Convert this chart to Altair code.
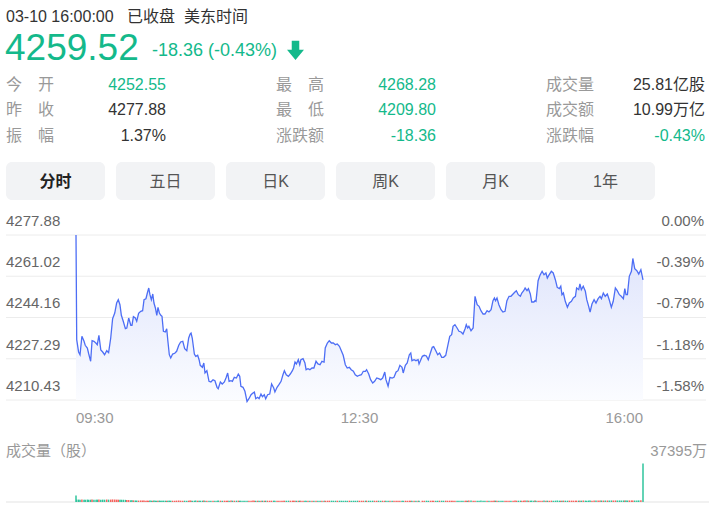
import altair as alt
import pandas as pd

# ---------------- data ----------------
prev_close = 4277.88
last_price = 4259.52
change = -18.36
change_pct = "-0.43%"
open_price = "4252.55"
high_price = "4268.28"
low_price = "4209.80"
amplitude = "1.37%"
total_volume = "25.81亿股"
turnover = "10.99万亿"
header_time = "03-10 16:00:00"
header_status = "已收盘"
header_zone = "美东时间"

tabs = ["分时", "五日", "日K", "周K", "月K", "1年"]

price_ticks = [4277.88, 4261.02, 4244.16, 4227.29, 4210.43]
pct_ticks = ["0.00%", "-0.39%", "-0.79%", "-1.18%", "-1.58%"]
time_labels = ["09:30", "12:30", "16:00"]
time_label_minutes = [0, 120, 240]
volume_max = 37395
volume_max_label = "37395万"
volume_title = "成交量（股）"

minutes = [
    0.0, 0.3, 1.1, 1.7, 2.5, 3.4, 3.9, 4.8, 5.4, 6.2,
    6.8, 7.6, 8.5, 9.0, 9.7, 10.5, 11.3, 12.1, 13.0, 13.8,
    14.7, 15.5, 16.4, 17.2, 17.9, 18.6, 19.2, 20.0, 20.9, 21.5,
    22.3, 23.2, 23.7, 24.3, 25.1, 25.7, 26.5, 27.4, 28.2, 28.8,
    29.6, 30.2, 30.8, 31.3, 31.9, 32.5, 33.0, 33.6, 34.2, 34.7,
    35.3, 35.9, 36.4, 37.0, 37.8, 38.4, 38.9, 39.5, 40.1, 40.9,
    41.8, 42.6, 43.5, 44.3, 45.2, 46.0, 46.9, 47.7, 48.3, 48.7,
    49.2, 50.1, 50.7, 51.5, 52.1, 52.6, 53.5, 54.1, 54.6, 55.4,
    56.3, 57.1, 58.0, 58.8, 59.7, 60.2, 61.1, 61.9, 62.8, 63.6,
    64.2, 64.8, 65.6, 66.2, 67.0, 67.9, 68.7, 69.3, 69.8, 70.7,
    71.5, 72.4, 73.2, 74.1, 74.9, 75.5, 76.1, 76.9, 77.5, 78.3,
    78.9, 79.7, 80.3, 81.1, 82.0, 82.8, 83.7, 84.2, 85.1, 85.9,
    86.8, 87.6, 88.2, 89.0, 89.9, 90.7, 91.6, 92.1, 92.7, 93.3,
    94.1, 94.7, 95.2, 96.1, 96.9, 97.4, 98.2, 99.0, 99.9, 100.7,
    101.6, 102.4, 103.3, 104.1, 105.0, 105.5, 106.4, 107.2, 108.1, 108.9,
    109.8, 110.6, 111.5, 112.3, 113.1, 114.0, 114.8, 115.7, 116.5, 117.4,
    118.2, 119.1, 119.9, 120.8, 121.6, 122.5, 123.0, 123.9, 124.7, 125.6,
    126.4, 127.3, 128.1, 129.0, 129.8, 130.7, 131.2, 132.1, 132.9, 133.8,
    134.6, 135.5, 136.3, 137.1, 138.0, 138.5, 139.4, 140.2, 141.1, 141.7,
    142.2, 143.1, 143.9, 144.8, 145.2, 146.6, 147.4, 148.3, 149.1, 150.0,
    150.8, 151.4, 152.3, 153.1, 153.9, 154.8, 155.6, 156.5, 157.3, 158.2,
    159.0, 159.6, 160.4, 161.3, 162.1, 163.0, 163.8, 164.7, 165.2, 165.8,
    166.3, 167.2, 168.1, 168.9, 169.8, 170.6, 171.4, 172.3, 173.1, 174.0,
    174.8, 175.7, 176.5, 177.1, 177.6, 178.2, 179.0, 179.9, 180.7, 181.6,
    182.4, 183.3, 184.1, 185.0, 185.8, 186.4, 187.2, 188.1, 188.7, 189.5,
    190.1, 190.9, 191.5, 192.3, 192.9, 193.8, 194.3, 194.7, 195.6, 196.4,
    197.3, 198.1, 198.9, 199.5, 200.3, 201.2, 202.0, 202.9, 203.7, 204.6,
    205.2, 205.7, 206.3, 207.1, 208.0, 208.8, 209.7, 210.5, 211.4, 211.9,
    212.8, 213.3, 213.9, 214.7, 215.6, 216.2, 217.0, 217.6, 218.4, 219.3,
    220.1, 221.0, 221.8, 222.4, 223.2, 224.0, 224.9, 225.7, 226.6, 227.4,
    228.3, 229.1, 230.0, 230.8, 231.7, 232.3, 232.8, 233.4, 234.2, 235.1,
    235.7, 236.5, 237.4, 238.2, 239.1, 240.0,
]

prices = [
    4277.88, 4235.08, 4230.05, 4228.95, 4236.47, 4234.43, 4232.79, 4231.69, 4229.23, 4226.25,
    4234.67, 4234.43, 4233.61, 4233.04, 4236.88, 4230.87, 4230.05, 4228.95, 4230.58, 4229.77,
    4235.77, 4243.66, 4245.99, 4250.08, 4251.43, 4249.39, 4245.05, 4242.60, 4239.58, 4239.86,
    4243.95, 4240.97, 4240.97, 4244.48, 4243.95, 4242.60, 4245.87, 4246.69, 4246.93, 4251.43,
    4251.84, 4254.17, 4256.21, 4253.48, 4251.43, 4253.76, 4250.08, 4248.04, 4245.05, 4248.32,
    4245.99, 4245.05, 4244.65, 4238.51, 4238.23, 4239.58, 4234.43, 4228.95, 4227.60, 4229.23,
    4229.52, 4230.34, 4232.79, 4234.14, 4234.43, 4231.40, 4230.58, 4235.77, 4237.41, 4237.82,
    4235.77, 4229.23, 4228.29, 4228.70, 4226.90, 4224.61, 4223.80, 4225.55, 4221.47, 4222.41,
    4218.07, 4217.79, 4218.73, 4218.32, 4215.62, 4215.05, 4217.79, 4216.97, 4217.79, 4219.71,
    4221.47, 4218.07, 4218.32, 4218.07, 4219.71, 4219.42, 4221.06, 4220.12, 4216.03, 4215.62,
    4213.99, 4209.80, 4210.96, 4212.60, 4213.29, 4213.70, 4210.96, 4211.53, 4210.96, 4212.88,
    4211.78, 4212.60, 4210.96, 4212.60, 4212.88, 4216.97, 4215.34, 4213.70, 4215.62, 4216.68,
    4218.07, 4220.77, 4222.41, 4220.77, 4220.12, 4221.06, 4222.41, 4223.51, 4225.96, 4225.15,
    4226.90, 4224.86, 4226.90, 4227.31, 4225.55, 4222.82, 4223.22, 4222.82, 4223.51, 4223.51,
    4226.25, 4225.15, 4224.86, 4226.25, 4225.96, 4231.69, 4233.73, 4234.67, 4233.73, 4233.73,
    4233.04, 4233.32, 4232.38, 4230.58, 4228.70, 4224.86, 4223.51, 4223.80, 4222.82, 4222.16,
    4220.77, 4220.12, 4220.53, 4220.77, 4222.16, 4222.16, 4222.82, 4221.06, 4218.73, 4217.38,
    4218.07, 4219.42, 4219.14, 4218.73, 4219.42, 4221.88, 4218.73, 4216.03, 4219.71, 4219.42,
    4219.71, 4221.88, 4222.41, 4224.61, 4223.80, 4221.47, 4224.61, 4225.55, 4228.95, 4229.64,
    4226.50, 4226.90, 4226.50, 4226.90, 4225.15, 4228.29, 4228.70, 4228.42, 4226.90, 4229.64,
    4231.97, 4232.22, 4230.58, 4228.95, 4229.64, 4227.88, 4227.88, 4228.70, 4232.38, 4236.47,
    4237.12, 4240.56, 4241.21, 4239.86, 4238.51, 4238.23, 4237.41, 4239.58, 4241.21, 4239.86,
    4240.56, 4238.76, 4239.86, 4252.82, 4249.39, 4248.73, 4246.93, 4245.59, 4245.59, 4246.93,
    4246.40, 4247.34, 4251.02, 4252.13, 4251.02, 4252.13, 4249.39, 4247.34, 4246.40, 4246.69,
    4251.02, 4252.82, 4252.82, 4253.76, 4254.58, 4255.11, 4253.48, 4252.82, 4254.17, 4255.11,
    4256.21, 4255.11, 4255.93, 4253.76, 4250.49, 4250.49, 4251.02, 4250.78, 4259.20, 4261.41,
    4263.04, 4261.65, 4262.35, 4260.30, 4261.65, 4263.04, 4262.35, 4259.61, 4256.50, 4255.93,
    4256.91, 4253.48, 4254.17, 4250.78, 4248.32, 4250.08, 4250.78, 4252.13, 4252.82, 4256.21,
    4255.52, 4257.85, 4255.52, 4256.91, 4254.87, 4251.43, 4248.73, 4246.40, 4249.67, 4251.43,
    4250.08, 4251.84, 4252.82, 4251.84, 4254.17, 4252.82, 4253.76, 4251.43, 4248.32, 4250.78,
    4256.21, 4255.11, 4253.48, 4252.82, 4251.84, 4255.93, 4253.48, 4253.48, 4261.00, 4263.04,
    4268.28, 4264.10, 4263.29, 4261.94, 4263.70, 4259.52,
]

# volume per sample, in 万股
volumes = [
    6400, 2300, 2350, 2250, 2400, 2300, 2200, 2350, 2300, 2250,
    2400, 2300, 2250, 2300, 2350, 2200, 2300, 2250, 2400, 2300,
    2350, 2500, 2400, 2300, 2250, 2300, 2200, 2150, 2100, 2000,
    1900, 1800, 1700, 1600, 1500, 1450, 1400, 1500, 1450, 1400,
    1300, 1350, 1250, 1400, 1300, 1280, 1350, 1300, 1250, 1320,
    1400, 1300, 1280, 1350, 1300, 1250, 1300, 1380, 1300, 1260,
    1300, 1350, 1400, 1300, 1250, 1300, 1280, 1320, 1350, 1300,
    1250, 1300, 1350, 1280, 1300, 1260, 1300, 1340, 1300, 1280,
    1300, 1250, 1320, 1300, 1280, 1350, 1300, 1260, 1300, 1250,
    1280, 1300, 1350, 1300, 1260, 1300, 1320, 1280, 1300, 1250,
    1300, 1280, 1260, 1300, 1350, 1300, 1280, 1250, 1300, 1320,
    1300, 1260, 1300, 1280, 1250, 1300, 1320, 1300, 1280, 1260,
    1250, 1280, 1300, 1260, 1300, 1250, 1280, 1300, 1260, 1240,
    1260, 1300, 1280, 1250, 1240, 1280, 1300, 1260, 1250, 1280,
    1300, 1260, 1240, 1280, 1300, 1250, 1260, 1280, 1300, 1250,
    1240, 1260, 1280, 1250, 1300, 1260, 1240, 1280, 1250, 1260,
    1280, 1300, 1250, 1260, 1240, 1280, 1300, 1260, 1250, 1280,
    1260, 1240, 1280, 1300, 1260, 1250, 1280, 1260, 1240, 1300,
    1250, 1280, 1260, 1300, 1250, 1240, 1260, 1280, 1300, 1260,
    1280, 1250, 1300, 1260, 1280, 1240, 1260, 1300, 1280, 1250,
    1300, 1260, 1280, 1250, 1300, 1280, 1260, 1300, 1250, 1280,
    1260, 1300, 1280, 1250, 1260, 1300, 1280, 1260, 1300, 1250,
    1400, 1350, 1300, 1320, 1280, 1300, 1350, 1300, 1280, 1320,
    1300, 1280, 1320, 1350, 1300, 1280, 1300, 1320, 1300, 1280,
    1300, 1320, 1280, 1300, 1350, 1300, 1280, 1320, 1300, 1350,
    1400, 1350, 1300, 1320, 1380, 1300, 1350, 1320, 1300, 1280,
    1300, 1350, 1320, 1300, 1280, 1350, 1300, 1320, 1380, 1300,
    1320, 1300, 1350, 1300, 1280, 1320, 1350, 1300, 1320, 1300,
    1350, 1300, 1320, 1380, 1350, 1300, 1400, 1350, 1320, 1400,
    1450, 1400, 1500, 1450, 1400, 1500, 1450, 1550, 1500, 1450,
    1500, 1550, 1500, 1450, 1500, 1550, 1500, 1450, 1500, 1550,
    1500, 1450, 1500, 1550, 1600, 37395,
]

# ---------------- styles ----------------
GREEN = "#14b98b"
RED = "#f5625d"
BAR_GREEN = "#2fc49c"
DARK = "#333333"
GREY = "#999999"
AXIS_GREY = "#666666"
LINE_BLUE = "#4d6ef5"
GRID = "#ececec"
TAB_BG = "#f2f3f5"
FONT = 'Liberation Sans, "Noto Sans CJK SC", sans-serif'
CJK = '"Noto Sans CJK SC", sans-serif'

prev = [prev_close] + prices[:-1]
df = pd.DataFrame({
    "minute": minutes,
    "price": prices,
    "volume": volumes,
    "dir": ["up" if p > q else "down" for p, q in zip(prices, prev)],
})
df["base"] = price_ticks[-1]

xscale = alt.Scale(domain=[0, 240], range=[76, 643], nice=False, zero=False, padding=0)
yscale = alt.Scale(domain=[price_ticks[-1], price_ticks[0]], range=[400, 235], nice=False,
                   zero=False, padding=0)
vscale = alt.Scale(domain=[0, volume_max], range=[502, 463.5], nice=False, padding=0)


def txt(text, x, y, size=16, color=DARK, align="left", baseline="alphabetic",
        weight="normal", font=FONT):
    return alt.Chart(pd.DataFrame({"t": [text]})).mark_text(
        align=align, baseline=baseline, fontSize=size, color=color,
        fontWeight=weight, font=font
    ).encode(x=alt.value(x), y=alt.value(y), text="t:N")


layers = []

# header
layers.append(txt(header_time, 6, 22, 16, DARK))
layers.append(txt(header_status, 127, 22, 16, DARK, font=CJK))
layers.append(txt(header_zone, 184, 22, 16, DARK, font=CJK))
layers.append(txt(f"{last_price:.2f}", 5, 60, 37, GREEN))
layers.append(txt(f"{change:.2f} ({change_pct})", 152, 56, 18, GREEN))
arrow = "M-0.39,-1 L0.39,-1 L0.39,-0.05 L0.88,-0.05 L0,1 L-0.88,-0.05 L-0.39,-0.05 Z"
layers.append(
    alt.Chart(pd.DataFrame({"a": [change]})).mark_point(
        shape=arrow, size=372, filled=True, color=GREEN, opacity=1, strokeWidth=0
    ).encode(x=alt.value(295.5), y=alt.value(50.3))
)

# stats block
rows_y = [89.5, 115.2, 141]
col_a_labels = ["今　开", "昨　收", "振　幅"]
col_a_values = [open_price, f"{prev_close:.2f}", amplitude]
col_a_colors = [GREEN, DARK, DARK]
col_b_labels = ["最　高", "最　低", "涨跌额"]
col_b_values = [high_price, low_price, f"{change:.2f}"]
col_b_colors = [GREEN, GREEN, GREEN]
col_c_labels = ["成交量", "成交额", "涨跌幅"]
col_c_values = [total_volume, turnover, change_pct]
col_c_colors = [DARK, DARK, GREEN]
for i, y in enumerate(rows_y):
    layers.append(txt(col_a_labels[i], 6, y, 16, GREY, font=CJK))
    layers.append(txt(col_a_values[i], 166, y, 16, col_a_colors[i], align="right"))
    layers.append(txt(col_b_labels[i], 276, y, 16, GREY, font=CJK))
    layers.append(txt(col_b_values[i], 436, y, 16, col_b_colors[i], align="right"))
    layers.append(txt(col_c_labels[i], 546, y, 16, GREY, font=CJK))
    layers.append(txt(col_c_values[i], 705, y, 16, col_c_colors[i], align="right"))

# tabs
for i, name in enumerate(tabs):
    x0 = 6 + 110 * i
    layers.append(
        alt.Chart(pd.DataFrame({"t": [name]})).mark_rect(
            color=TAB_BG, cornerRadius=6
        ).encode(x=alt.value(x0), x2=alt.value(x0 + 99), y=alt.value(162), y2=alt.value(200))
    )
    layers.append(txt(name, x0 + 49.5, 181.5, 16, "#222222" if i == 0 else "#555555",
                      align="center", baseline="middle",
                      weight="bold" if i == 0 else "normal"))

# price grid
grid_df = pd.DataFrame({"price": price_ticks, "label": [f"{v:.2f}" for v in price_ticks],
                        "pct": pct_ticks})
layers.append(
    alt.Chart(grid_df).mark_rule(color=GRID, strokeWidth=1).encode(
        x=alt.value(6), x2=alt.value(706),
        y=alt.Y("price:Q", scale=yscale, axis=None))
)
layers.append(
    alt.Chart(grid_df).mark_text(align="left", baseline="alphabetic", dy=-9, fontSize=15,
                                 color=AXIS_GREY, font=FONT).encode(
        x=alt.value(6), y=alt.Y("price:Q", scale=yscale, axis=None), text="label:N")
)
layers.append(
    alt.Chart(grid_df).mark_text(align="right", baseline="alphabetic", dy=-9, fontSize=15,
                                 color=AXIS_GREY, font=FONT).encode(
        x=alt.value(704), y=alt.Y("price:Q", scale=yscale, axis=None), text="pct:N")
)

# area + line
gradient = alt.Gradient(
    gradient="linear",
    stops=[alt.GradientStop(color="#dce2fb", offset=0),
           alt.GradientStop(color="#fbfcff", offset=1)],
    x1=1, x2=1, y1=0, y2=1,
)
layers.append(
    alt.Chart(df).mark_area(color=gradient).encode(
        x=alt.X("minute:Q", scale=xscale, axis=None),
        y=alt.Y("price:Q", scale=yscale, axis=None),
        y2="base:Q")
)
layers.append(
    alt.Chart(df).mark_line(color=LINE_BLUE, strokeWidth=1.3).encode(
        x=alt.X("minute:Q", scale=xscale, axis=None),
        y=alt.Y("price:Q", scale=yscale, axis=None))
)

# time labels
tl = pd.DataFrame({"minute": time_label_minutes, "label": time_labels})
for i, al in enumerate(["left", "center", "right"]):
    layers.append(
        alt.Chart(tl.iloc[[i]]).mark_text(align=al, baseline="alphabetic", fontSize=15,
                                          color=GREY, font=FONT).encode(
            x=alt.X("minute:Q", scale=xscale, axis=None), y=alt.value(423), text="label:N")
    )

# volume
layers.append(txt(volume_title, 6, 456, 15, GREY, font=CJK))
layers.append(txt(volume_max_label, 707, 456, 15, GREY, align="right"))
layers.append(
    alt.Chart(pd.DataFrame({"v": [0]})).mark_rule(color=GRID, strokeWidth=1.5).encode(
        x=alt.value(6), x2=alt.value(709), y=alt.Y("v:Q", scale=vscale, axis=None))
)
layers.append(
    alt.Chart(df).mark_bar(size=1.5).encode(
        x=alt.X("minute:Q", scale=xscale, axis=None),
        y=alt.Y("volume:Q", scale=vscale, axis=None),
        color=alt.Color("dir:N", scale=alt.Scale(domain=["up", "down"], range=[RED, BAR_GREEN]),
                        legend=None))
)

chart = alt.layer(*layers).properties(
    width=709, height=506, padding=0,
    autosize=alt.AutoSizeParams(type="none"),
).resolve_scale(y="independent").configure_view(stroke=None)

chart.save("out.html", embed_options={"renderer": "svg", "actions": False})
